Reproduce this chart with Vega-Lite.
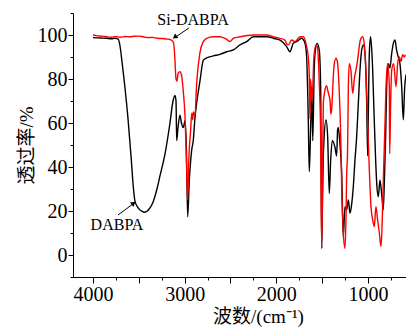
{
  "$schema": "https://vega.github.io/schema/vega-lite/v6.json",
  "width": 333,
  "height": 264,
  "autosize": {"type": "none"},
  "padding": {"left": 73, "top": 13, "right": 0, "bottom": 50},
  "background": "white",
  "config": {
    "font": "Liberation Serif",
    "view": {"stroke": null},
    "axis": {"grid": false, "domainColor": "black", "tickColor": "black", "labelColor": "black", "titleColor": "black", "domainWidth": 1, "tickWidth": 1, "labelFont": "Liberation Serif"},
    "style": {"guide-label": {"font": "Liberation Serif"}, "guide-title": {"font": "Liberation Serif, Noto Sans CJK SC"}}
  },
  "resolve": {"axis": {"x": "independent", "y": "independent"}},
  "datasets": {
    "spectra": [
      {"s":"DABPA","w":4000,"t":98.8},{"s":"DABPA","w":3950,"t":98.7},{"s":"DABPA","w":3900,"t":98.6},{"s":"DABPA","w":3850,"t":98.5},{"s":"DABPA","w":3800,"t":98.3},{"s":"DABPA","w":3760,"t":98.5},{"s":"DABPA","w":3727,"t":98.2},{"s":"DABPA","w":3705,"t":95},{"s":"DABPA","w":3684,"t":88},{"s":"DABPA","w":3651,"t":76},{"s":"DABPA","w":3618,"t":62},{"s":"DABPA","w":3585,"t":45},{"s":"DABPA","w":3558,"t":30},{"s":"DABPA","w":3542,"t":24.5},{"s":"DABPA","w":3509,"t":21.5},{"s":"DABPA","w":3465,"t":19.8},{"s":"DABPA","w":3433,"t":19.4},{"s":"DABPA","w":3389,"t":20.8},{"s":"DABPA","w":3345,"t":24},{"s":"DABPA","w":3302,"t":30},{"s":"DABPA","w":3269,"t":36},{"s":"DABPA","w":3214,"t":46},{"s":"DABPA","w":3160,"t":60},{"s":"DABPA","w":3127,"t":70},{"s":"DABPA","w":3105,"t":72.5},{"s":"DABPA","w":3094,"t":70},{"s":"DABPA","w":3087,"t":52},{"s":"DABPA","w":3072,"t":58},{"s":"DABPA","w":3051,"t":63.6},{"s":"DABPA","w":3035,"t":60},{"s":"DABPA","w":3014,"t":58},{"s":"DABPA","w":2996,"t":61},{"s":"DABPA","w":2982,"t":50},{"s":"DABPA","w":2967,"t":17.4},{"s":"DABPA","w":2949,"t":34},{"s":"DABPA","w":2934,"t":43},{"s":"DABPA","w":2923,"t":47.7},{"s":"DABPA","w":2906,"t":52},{"s":"DABPA","w":2888,"t":62},{"s":"DABPA","w":2869,"t":69},{"s":"DABPA","w":2833,"t":79},{"s":"DABPA","w":2796,"t":88.6},{"s":"DABPA","w":2760,"t":89.6},{"s":"DABPA","w":2687,"t":90.5},{"s":"DABPA","w":2614,"t":91.2},{"s":"DABPA","w":2541,"t":92.4},{"s":"DABPA","w":2469,"t":93.2},{"s":"DABPA","w":2396,"t":95.5},{"s":"DABPA","w":2323,"t":97},{"s":"DABPA","w":2251,"t":99.2},{"s":"DABPA","w":2105,"t":99.2},{"s":"DABPA","w":2033,"t":98.5},{"s":"DABPA","w":1960,"t":97.7},{"s":"DABPA","w":1887,"t":94.7},{"s":"DABPA","w":1851,"t":92.4},{"s":"DABPA","w":1815,"t":96.2},{"s":"DABPA","w":1778,"t":97},{"s":"DABPA","w":1723,"t":98.5},{"s":"DABPA","w":1687,"t":96.2},{"s":"DABPA","w":1669,"t":90},{"s":"DABPA","w":1651,"t":61.4},{"s":"DABPA","w":1640,"t":37.9},{"s":"DABPA","w":1625,"t":58.3},{"s":"DABPA","w":1614,"t":76.5},{"s":"DABPA","w":1602,"t":52},{"s":"DABPA","w":1586,"t":85},{"s":"DABPA","w":1567,"t":95},{"s":"DABPA","w":1553,"t":96.2},{"s":"DABPA","w":1531,"t":93},{"s":"DABPA","w":1516,"t":76},{"s":"DABPA","w":1505,"t":3},{"s":"DABPA","w":1494,"t":30},{"s":"DABPA","w":1487,"t":45},{"s":"DABPA","w":1480,"t":52},{"s":"DABPA","w":1458,"t":61.4},{"s":"DABPA","w":1440,"t":54},{"s":"DABPA","w":1422,"t":28},{"s":"DABPA","w":1407,"t":43},{"s":"DABPA","w":1389,"t":52},{"s":"DABPA","w":1360,"t":49},{"s":"DABPA","w":1342,"t":45},{"s":"DABPA","w":1331,"t":57},{"s":"DABPA","w":1324,"t":58},{"s":"DABPA","w":1305,"t":50},{"s":"DABPA","w":1287,"t":38},{"s":"DABPA","w":1269,"t":8},{"s":"DABPA","w":1251,"t":22},{"s":"DABPA","w":1233,"t":20.5},{"s":"DABPA","w":1214,"t":25},{"s":"DABPA","w":1196,"t":19},{"s":"DABPA","w":1178,"t":23},{"s":"DABPA","w":1160,"t":31},{"s":"DABPA","w":1142,"t":43},{"s":"DABPA","w":1123,"t":54},{"s":"DABPA","w":1105,"t":69},{"s":"DABPA","w":1087,"t":84},{"s":"DABPA","w":1069,"t":93},{"s":"DABPA","w":1051,"t":95.5},{"s":"DABPA","w":1033,"t":91.7},{"s":"DABPA","w":1014,"t":69},{"s":"DABPA","w":1003,"t":45},{"s":"DABPA","w":996,"t":64},{"s":"DABPA","w":985,"t":91.7},{"s":"DABPA","w":971,"t":99.2},{"s":"DABPA","w":953,"t":88.6},{"s":"DABPA","w":931,"t":61},{"s":"DABPA","w":916,"t":43},{"s":"DABPA","w":902,"t":31},{"s":"DABPA","w":887,"t":26.5},{"s":"DABPA","w":869,"t":34},{"s":"DABPA","w":851,"t":28},{"s":"DABPA","w":833,"t":20.5},{"s":"DABPA","w":820,"t":35},{"s":"DABPA","w":807,"t":54},{"s":"DABPA","w":796,"t":76.5},{"s":"DABPA","w":778,"t":87},{"s":"DABPA","w":760,"t":85},{"s":"DABPA","w":741,"t":91.7},{"s":"DABPA","w":723,"t":96.2},{"s":"DABPA","w":705,"t":97.7},{"s":"DABPA","w":687,"t":93},{"s":"DABPA","w":669,"t":90},{"s":"DABPA","w":651,"t":87},{"s":"DABPA","w":632,"t":76.5},{"s":"DABPA","w":614,"t":61.4},{"s":"DABPA","w":601,"t":75},{"s":"DABPA","w":585,"t":82},
      {"s":"Si-DABPA","w":4000,"t":100},{"s":"Si-DABPA","w":3950,"t":99.6},{"s":"Si-DABPA","w":3900,"t":99.5},{"s":"Si-DABPA","w":3850,"t":99.2},{"s":"Si-DABPA","w":3800,"t":99},{"s":"Si-DABPA","w":3750,"t":99.3},{"s":"Si-DABPA","w":3700,"t":99},{"s":"Si-DABPA","w":3650,"t":99.3},{"s":"Si-DABPA","w":3600,"t":99.2},{"s":"Si-DABPA","w":3550,"t":99.4},{"s":"Si-DABPA","w":3500,"t":99.5},{"s":"Si-DABPA","w":3450,"t":99.2},{"s":"Si-DABPA","w":3400,"t":98.8},{"s":"Si-DABPA","w":3350,"t":98.9},{"s":"Si-DABPA","w":3300,"t":98.5},{"s":"Si-DABPA","w":3250,"t":98.4},{"s":"Si-DABPA","w":3200,"t":98.2},{"s":"Si-DABPA","w":3150,"t":97.8},{"s":"Si-DABPA","w":3127,"t":97},{"s":"Si-DABPA","w":3116,"t":95},{"s":"Si-DABPA","w":3105,"t":88},{"s":"Si-DABPA","w":3094,"t":80},{"s":"Si-DABPA","w":3083,"t":79},{"s":"Si-DABPA","w":3072,"t":82.6},{"s":"Si-DABPA","w":3051,"t":83.3},{"s":"Si-DABPA","w":3035,"t":82},{"s":"Si-DABPA","w":3014,"t":74},{"s":"Si-DABPA","w":2996,"t":63},{"s":"Si-DABPA","w":2982,"t":45},{"s":"Si-DABPA","w":2967,"t":25},{"s":"Si-DABPA","w":2953,"t":45},{"s":"Si-DABPA","w":2934,"t":57},{"s":"Si-DABPA","w":2923,"t":64.5},{"s":"Si-DABPA","w":2912,"t":61.4},{"s":"Si-DABPA","w":2906,"t":65},{"s":"Si-DABPA","w":2888,"t":63},{"s":"Si-DABPA","w":2869,"t":78},{"s":"Si-DABPA","w":2833,"t":92},{"s":"Si-DABPA","w":2796,"t":97},{"s":"Si-DABPA","w":2760,"t":98.5},{"s":"Si-DABPA","w":2687,"t":99.2},{"s":"Si-DABPA","w":2614,"t":99.2},{"s":"Si-DABPA","w":2541,"t":98},{"s":"Si-DABPA","w":2505,"t":97},{"s":"Si-DABPA","w":2469,"t":98.5},{"s":"Si-DABPA","w":2396,"t":99.2},{"s":"Si-DABPA","w":2251,"t":100},{"s":"Si-DABPA","w":2105,"t":100},{"s":"Si-DABPA","w":2033,"t":99.2},{"s":"Si-DABPA","w":1960,"t":98.5},{"s":"Si-DABPA","w":1906,"t":97.7},{"s":"Si-DABPA","w":1887,"t":96},{"s":"Si-DABPA","w":1869,"t":95.5},{"s":"Si-DABPA","w":1833,"t":97.7},{"s":"Si-DABPA","w":1796,"t":97},{"s":"Si-DABPA","w":1742,"t":99.2},{"s":"Si-DABPA","w":1705,"t":99.2},{"s":"Si-DABPA","w":1669,"t":94.7},{"s":"Si-DABPA","w":1651,"t":90},{"s":"Si-DABPA","w":1640,"t":81},{"s":"Si-DABPA","w":1633,"t":62},{"s":"Si-DABPA","w":1625,"t":80},{"s":"Si-DABPA","w":1614,"t":70},{"s":"Si-DABPA","w":1603,"t":75},{"s":"Si-DABPA","w":1590,"t":90},{"s":"Si-DABPA","w":1567,"t":95.5},{"s":"Si-DABPA","w":1553,"t":95},{"s":"Si-DABPA","w":1531,"t":78},{"s":"Si-DABPA","w":1516,"t":54},{"s":"Si-DABPA","w":1505,"t":3},{"s":"Si-DABPA","w":1494,"t":40},{"s":"Si-DABPA","w":1487,"t":69},{"s":"Si-DABPA","w":1469,"t":75},{"s":"Si-DABPA","w":1451,"t":77},{"s":"Si-DABPA","w":1440,"t":75},{"s":"Si-DABPA","w":1422,"t":72},{"s":"Si-DABPA","w":1414,"t":70.5},{"s":"Si-DABPA","w":1405,"t":64},{"s":"Si-DABPA","w":1393,"t":68},{"s":"Si-DABPA","w":1385,"t":75},{"s":"Si-DABPA","w":1371,"t":85.6},{"s":"Si-DABPA","w":1349,"t":89.4},{"s":"Si-DABPA","w":1334,"t":88},{"s":"Si-DABPA","w":1316,"t":77},{"s":"Si-DABPA","w":1295,"t":50},{"s":"Si-DABPA","w":1287,"t":31},{"s":"Si-DABPA","w":1269,"t":10},{"s":"Si-DABPA","w":1251,"t":3},{"s":"Si-DABPA","w":1240,"t":16},{"s":"Si-DABPA","w":1233,"t":35},{"s":"Si-DABPA","w":1222,"t":49},{"s":"Si-DABPA","w":1214,"t":76.5},{"s":"Si-DABPA","w":1204,"t":87},{"s":"Si-DABPA","w":1186,"t":84},{"s":"Si-DABPA","w":1167,"t":73.5},{"s":"Si-DABPA","w":1158,"t":76},{"s":"Si-DABPA","w":1149,"t":80},{"s":"Si-DABPA","w":1131,"t":84},{"s":"Si-DABPA","w":1113,"t":88.6},{"s":"Si-DABPA","w":1083,"t":97.7},{"s":"Si-DABPA","w":1058,"t":99.2},{"s":"Si-DABPA","w":1040,"t":96},{"s":"Si-DABPA","w":1022,"t":84},{"s":"Si-DABPA","w":1004,"t":61.4},{"s":"Si-DABPA","w":985,"t":38.6},{"s":"Si-DABPA","w":967,"t":22},{"s":"Si-DABPA","w":949,"t":16},{"s":"Si-DABPA","w":931,"t":12.9},{"s":"Si-DABPA","w":913,"t":22},{"s":"Si-DABPA","w":895,"t":16},{"s":"Si-DABPA","w":876,"t":10},{"s":"Si-DABPA","w":858,"t":3.8},{"s":"Si-DABPA","w":847,"t":12},{"s":"Si-DABPA","w":829,"t":38.6},{"s":"Si-DABPA","w":813,"t":61.4},{"s":"Si-DABPA","w":803,"t":76.5},{"s":"Si-DABPA","w":785,"t":87},{"s":"Si-DABPA","w":767,"t":76.5},{"s":"Si-DABPA","w":763,"t":46},{"s":"Si-DABPA","w":752,"t":70},{"s":"Si-DABPA","w":741,"t":84},{"s":"Si-DABPA","w":720,"t":87},{"s":"Si-DABPA","w":694,"t":76.5},{"s":"Si-DABPA","w":676,"t":87},{"s":"Si-DABPA","w":658,"t":90},{"s":"Si-DABPA","w":640,"t":88},{"s":"Si-DABPA","w":621,"t":91},{"s":"Si-DABPA","w":603,"t":90},{"s":"Si-DABPA","w":590,"t":91}
    ],
    "labels": [
      {"name":"Si-DABPA","w":2909,"t":106.8},
      {"name":"DABPA","w":3738,"t":13.6}
    ],
    "arrows": [
      {"name":"Si-DABPA","w":2953,"t":103.2,"w2":3105,"t2":98.9},
      {"name":"DABPA","w":3727,"t":18.2,"w2":3560,"t2":23.3}
    ],
    "heads": [
      {"name":"Si-DABPA","w":3108,"t":99.0},
      {"name":"DABPA","w":3557,"t":23.5}
    ]
  },
  "layer": [
    {
      "data": {"name": "spectra"},
      "transform": [{"filter": "datum.s === 'DABPA'"}],
      "mark": {"type": "line", "color": "black", "strokeWidth": 1.4, "clip": true, "interpolate": "monotone"},
      "encoding": {
        "x": {"field": "w", "type": "quantitative", "scale": {"domain": [585, 4218], "reverse": true, "nice": false, "zero": false},
          "axis": {"orient": "bottom", "title": "波数/(cm⁻¹)", "values": [4000,3500,3000,2500,2000,1500,1000], "format": "d", "labelExpr": "datum.value % 1000 === 0 ? datum.label : ''", "tickSize": 6, "labelPadding": 1, "labelFont": "Liberation Serif", "labelFontSize": 20, "titleFont": "Liberation Serif, Noto Sans CJK SC", "titleFontSize": 19, "titleFontWeight": "normal", "titleX": 185, "titleY": 39, "titleBaseline": "middle", "titleAnchor": "middle", "labelFlush": false, "labelOverlap": false}},
        "y": {"field": "t", "type": "quantitative", "scale": {"domain": [-10, 110], "nice": false, "zero": false},
          "axis": {"orient": "left", "title": "透过率/%", "values": [0,20,40,60,80,100], "format": "d", "tickSize": 5, "labelPadding": 1, "labelFont": "Liberation Serif", "labelFontSize": 20, "titleFont": "Liberation Serif, Noto Sans CJK SC", "titleFontSize": 19, "titleFontWeight": "normal", "titleX": -47, "titleY": 132, "titleAngle": -90, "titleBaseline": "middle", "titleAnchor": "middle", "labelOverlap": false, "labelFlush": false}}
      }
    },
    {
      "data": {"name": "spectra"},
      "transform": [{"filter": "datum.s === 'Si-DABPA'"}],
      "mark": {"type": "line", "color": "red", "strokeWidth": 1.4, "clip": true, "interpolate": "monotone"},
      "encoding": {
        "x": {"field": "w", "type": "quantitative",
          "axis": {"orient": "bottom", "title": null, "values": [3750,3250,2750,2250,1750,1250,750], "labels": false, "tickSize": 3, "domain": false}},
        "y": {"field": "t", "type": "quantitative",
          "axis": {"orient": "left", "title": null, "values": [-10,10,30,50,70,90,110], "labels": false, "tickSize": 3, "domain": false}}
      }
    },
    {
      "data": {"name": "arrows"},
      "mark": {"type": "rule", "color": "black", "strokeWidth": 1},
      "encoding": {
        "x": {"field": "w", "type": "quantitative", "axis": null},
        "y": {"field": "t", "type": "quantitative", "axis": null},
        "x2": {"field": "w2"},
        "y2": {"field": "t2"}
      }
    },
    {
      "data": {"name": "heads"},
      "transform": [{"filter": "datum.name === 'Si-DABPA'"}],
      "mark": {"type": "point", "shape": "triangle-up", "filled": true, "color": "black", "size": 30, "angle": 234, "opacity": 1},
      "encoding": {
        "x": {"field": "w", "type": "quantitative", "axis": null},
        "y": {"field": "t", "type": "quantitative", "axis": null}
      }
    },
    {
      "data": {"name": "heads"},
      "transform": [{"filter": "datum.name === 'DABPA'"}],
      "mark": {"type": "point", "shape": "triangle-up", "filled": true, "color": "black", "size": 30, "angle": 53, "opacity": 1},
      "encoding": {
        "x": {"field": "w", "type": "quantitative", "axis": null},
        "y": {"field": "t", "type": "quantitative", "axis": null}
      }
    },
    {
      "data": {"name": "labels"},
      "mark": {"type": "text", "font": "Liberation Serif", "fontSize": 16, "color": "black", "align": "center", "baseline": "middle"},
      "encoding": {
        "x": {"field": "w", "type": "quantitative", "axis": null},
        "y": {"field": "t", "type": "quantitative", "axis": null},
        "text": {"field": "name"}
      }
    }
  ]
}
